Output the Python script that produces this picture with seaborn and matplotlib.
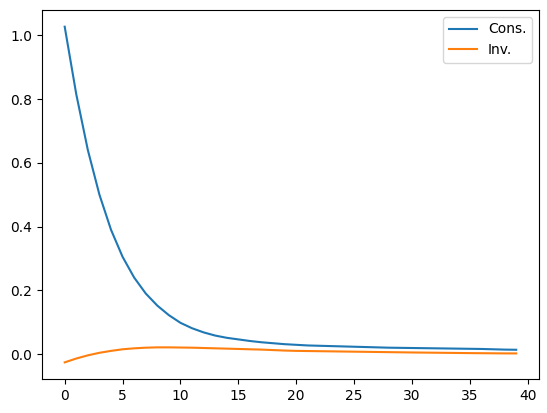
import matplotlib
matplotlib.use("Agg")
import matplotlib.pyplot as plt
import seaborn as sns
import pandas as pd

# periodi (0-39)
periodi = list(range(40))

# risposta dei consumi
cons = [1.027, 0.815, 0.64, 0.50, 0.39, 0.305, 0.24, 0.19, 0.152, 0.122,
        0.098, 0.081, 0.068, 0.058, 0.051, 0.046, 0.041, 0.037, 0.034, 0.031,
        0.029, 0.027, 0.026, 0.025, 0.024, 0.023, 0.022, 0.021, 0.020, 0.0195,
        0.019, 0.0185, 0.018, 0.0175, 0.017, 0.0165, 0.016, 0.0150, 0.014, 0.0135]

# risposta degli investimenti
inv = [-0.026, -0.014, -0.004, 0.004, 0.010, 0.015, 0.018, 0.020, 0.021, 0.021,
       0.0205, 0.020, 0.019, 0.018, 0.017, 0.016, 0.015, 0.014, 0.0125, 0.011,
       0.010, 0.0095, 0.009, 0.0085, 0.008, 0.0075, 0.007, 0.0065, 0.006, 0.0055,
       0.005, 0.0046, 0.0042, 0.0038, 0.0034, 0.003, 0.0027, 0.0024, 0.0021, 0.002]

df = pd.DataFrame({
    "periodo": periodi * 2,
    "valore": cons + inv,
    "serie": ["Cons."] * len(cons) + ["Inv."] * len(inv),
})

fig, ax = plt.subplots(figsize=(5.47, 4.13), dpi=100)
sns.lineplot(data=df, x="periodo", y="valore", hue="serie",
             palette=["#1f77b4", "#ff7f0e"], ax=ax)
ax.set_xlabel("")
ax.set_ylabel("")
ax.legend(title=None, loc="upper right")

# margini come nel riferimento
plt.subplots_adjust(left=0.077, right=0.985, top=0.976, bottom=0.082)
fig.savefig("out.png", dpi=100)
